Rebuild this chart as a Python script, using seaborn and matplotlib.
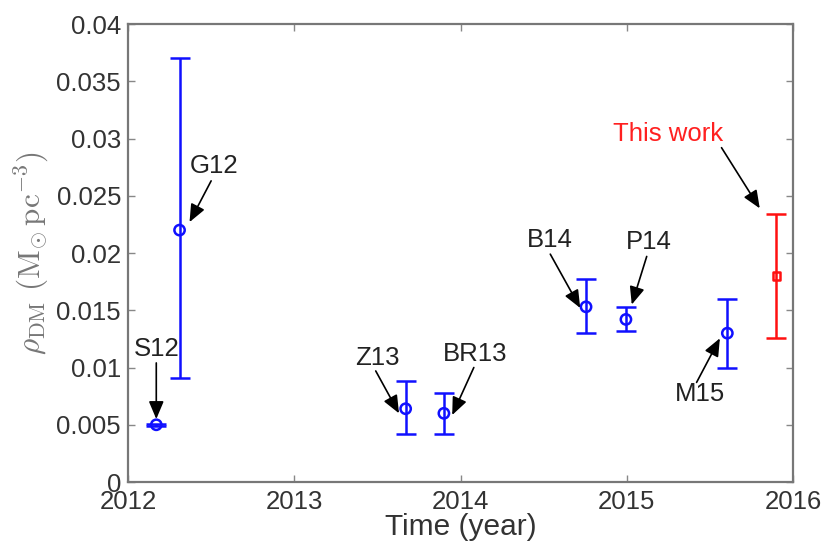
import numpy as np
import pandas as pd
import matplotlib
matplotlib.use("Agg")
import matplotlib.pyplot as plt
import seaborn as sns
from matplotlib.ticker import FuncFormatter, MultipleLocator

# ---- data ----
labels = ["S12", "G12", "Z13", "BR13", "B14", "P14", "M15", "This work"]
years = [2012.17, 2012.31, 2013.67, 2013.90, 2014.755, 2014.995, 2015.605, 2015.90]
rho = [0.0050, 0.0220, 0.0064, 0.0060, 0.0153, 0.0142, 0.0130, 0.0180]
upper = [0.0051, 0.0370, 0.0088, 0.0078, 0.0177, 0.0153, 0.0160, 0.0234]
lower = [0.0049, 0.0091, 0.0042, 0.0042, 0.0130, 0.0132, 0.0100, 0.0126]
group = ["prev", "prev", "prev", "prev", "prev", "prev", "prev", "this"]

# annotation text positions and arrow start / tip points (data coords)
text_x = [2012.17, 2012.52, 2013.50, 2014.09, 2014.54, 2015.13, 2015.44, 2015.25]
text_y = [0.0116, 0.0276, 0.0108, 0.0112, 0.0211, 0.0210, 0.0077, 0.0304]
tail_x = [2012.17, 2012.50, 2013.49, 2014.08, 2014.54, 2015.12, 2015.42, 2015.57]
tail_y = [0.0104, 0.0263, 0.0097, 0.0100, 0.0199, 0.0197, 0.0087, 0.0292]
tip_x = [2012.17, 2012.37, 2013.63, 2013.95, 2014.72, 2015.03, 2015.56, 2015.80]
tip_y = [0.0055, 0.0227, 0.0060, 0.00585, 0.0152, 0.0155, 0.01255, 0.0239]

df = pd.DataFrame({"label": labels, "year": years, "rho": rho,
                   "upper": upper, "lower": lower, "group": group})

sns.set_theme(style="white")
plt.rcParams["font.family"] = ["Liberation Sans", "DejaVu Sans"]
plt.rcParams["mathtext.fontset"] = "cm"

fig = plt.figure(figsize=(8.27, 5.48), dpi=100)
ax = fig.add_axes([0.1548, 0.1204, 0.8041, 0.8358])

palette = {"prev": "#1010ff", "this": "#ff1010"}
for _, r in df.iterrows():
    c = palette[r["group"]]
    ax.errorbar(r["year"], r["rho"],
                yerr=[[r["rho"] - r["lower"]], [r["upper"] - r["rho"]]],
                fmt="none", ecolor=c, elinewidth=1.8, capsize=7.5, capthick=1.8, zorder=2)

sns.scatterplot(data=df[df.group == "prev"], x="year", y="rho", ax=ax,
                marker="o", s=55, facecolor="none", edgecolor=palette["prev"],
                linewidth=1.8, zorder=3, legend=False)
sns.scatterplot(data=df[df.group == "this"], x="year", y="rho", ax=ax,
                marker="s", s=28, facecolor="none", edgecolor=palette["this"],
                linewidth=1.8, zorder=3, legend=False)

for i, lab in enumerate(labels):
    col = "#ff2020" if lab == "This work" else "#222222"
    ax.text(text_x[i], text_y[i], lab, ha="center", va="center",
            fontsize=18.5, color=col)
    ax.annotate("", xy=(tip_x[i], tip_y[i]), xytext=(tail_x[i], tail_y[i]),
                arrowprops=dict(arrowstyle="-|>,head_length=0.9,head_width=0.38",
                                color="black", lw=1.2, shrinkA=0, shrinkB=0))

ax.set_xlim(2012, 2016)
ax.set_ylim(0, 0.04)
ax.xaxis.set_major_locator(MultipleLocator(1))
ax.yaxis.set_major_locator(MultipleLocator(0.005))
ax.yaxis.set_major_formatter(FuncFormatter(lambda v, p: "%g" % round(v, 4)))
ax.tick_params(direction="in", length=5, width=1, colors="#888888",
               labelcolor="#333333", labelsize=18.5, top=True, right=True,
               bottom=True, left=True)
ax.tick_params(axis="x", pad=6)
ax.tick_params(axis="y", pad=5)
for s in ax.spines.values():
    s.set_color("#777777")
    s.set_linewidth(1.6)

ax.set_xlabel("Time (year)", fontsize=21.5, color="#333333", labelpad=-1)
ax.set_ylabel(r"$\rho_{\rm DM}\ ({\rm M_{\odot}\,pc^{-3}})$", fontsize=22.5,
              color="#777777", labelpad=4)

fig.savefig("out.png", dpi=100)
